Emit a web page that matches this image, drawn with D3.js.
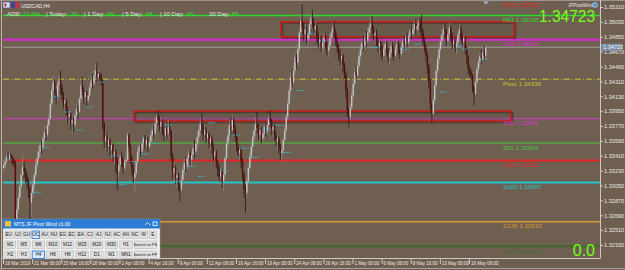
<!DOCTYPE html>
<html>
<head>
<meta charset="utf-8">
<script src="https://cdn.jsdelivr.net/npm/d3@7"></script>
<style>
  body { margin: 0; background: #6e5f50; overflow: hidden; }
  svg { display: block; font-family: "Liberation Sans", Arial, sans-serif; }
</style>
</head>
<body>
<svg width="625" height="270"></svg>
<script>
// USDCAD H4 candles (bar 0 = 18 Mar 2019 00:00)
var openFirst = 1.3326;
var closes = [
  1.3330,1.3334,1.3340,1.3337,1.3342,1.3339,1.3335,1.3332,1.3262,1.3276,
  1.3290,1.3304,1.3318,1.3328,1.3322,1.3316,1.3310,1.3300,1.3284,1.3296,
  1.3306,1.3318,1.3330,1.3338,1.3346,1.3354,1.3350,1.3362,1.3370,1.3366,
  1.3378,1.3386,1.3404,1.3420,1.3430,1.3418,1.3412,1.3426,1.3432,1.3424,
  1.3414,1.3404,1.3408,1.3396,1.3388,1.3392,1.3380,1.3384,1.3378,1.3390,
  1.3398,1.3394,1.3410,1.3426,1.3420,1.3412,1.3418,1.3408,1.3414,1.3424,
  1.3432,1.3428,1.3438,1.3444,1.3436,1.3440,1.3434,1.3432,1.3380,1.3358,
  1.3364,1.3352,1.3360,1.3348,1.3354,1.3342,1.3346,1.3336,1.3322,1.3330,
  1.3340,1.3334,1.3326,1.3334,1.3336,1.3366,1.3352,1.3338,1.3326,1.3314,
  1.3320,1.3334,1.3346,1.3352,1.3346,1.3356,1.3362,1.3354,1.3360,1.3352,
  1.3358,1.3366,1.3372,1.3368,1.3380,1.3388,1.3384,1.3376,1.3382,1.3372,
  1.3366,1.3374,1.3368,1.3376,1.3370,1.3340,1.3320,1.3326,1.3314,1.3318,
  1.3306,1.3300,1.3312,1.3324,1.3332,1.3328,1.3338,1.3344,1.3336,1.3342,
  1.3350,1.3346,1.3356,1.3364,1.3372,1.3380,1.3376,1.3366,1.3372,1.3362,
  1.3368,1.3356,1.3362,1.3352,1.3340,1.3346,1.3332,1.3324,1.3316,1.3322,
  1.3310,1.3318,1.3338,1.3356,1.3366,1.3378,1.3372,1.3384,1.3374,1.3364,
  1.3352,1.3344,1.3348,1.3334,1.3318,1.3300,1.3296,1.3310,1.3326,1.3340,
  1.3352,1.3364,1.3372,1.3380,1.3374,1.3366,1.3372,1.3362,1.3368,1.3376,
  1.3370,1.3378,1.3386,1.3382,1.3372,1.3376,1.3366,1.3358,1.3362,1.3350,
  1.3344,1.3348,1.3360,1.3372,1.3388,1.3404,1.3420,1.3436,1.3430,1.3444,
  1.3460,1.3454,1.3470,1.3490,1.3504,1.3496,1.3488,1.3494,1.3482,1.3488,
  1.3500,1.3508,1.3502,1.3494,1.3498,1.3486,1.3478,1.3482,1.3472,1.3478,
  1.3484,1.3476,1.3468,1.3474,1.3484,1.3490,1.3496,1.3490,1.3480,1.3472,
  1.3464,1.3458,1.3462,1.3450,1.3440,1.3420,1.3396,1.3388,1.3400,1.3414,
  1.3428,1.3442,1.3438,1.3450,1.3462,1.3470,1.3478,1.3474,1.3484,1.3480,
  1.3490,1.3496,1.3500,1.3494,1.3486,1.3490,1.3480,1.3472,1.3478,1.3468,
  1.3462,1.3470,1.3476,1.3468,1.3460,1.3466,1.3474,1.3468,1.3462,1.3470,
  1.3476,1.3470,1.3464,1.3472,1.3480,1.3476,1.3484,1.3478,1.3486,1.3492,
  1.3488,1.3494,1.3500,1.3494,1.3498,1.3502,1.3496,1.3490,1.3480,1.3472,
  1.3462,1.3448,1.3430,1.3404,1.3392,1.3408,1.3426,1.3444,1.3458,1.3470,
  1.3480,1.3488,1.3494,1.3490,1.3480,1.3488,1.3496,1.3486,1.3476,1.3480,
  1.3472,1.3478,1.3488,1.3494,1.3486,1.3478,1.3484,1.3470,1.3460,1.3446,
  1.3442,1.3438,1.3424,1.3416,1.3430,1.3446,1.3454,1.3462,1.3458,1.3466,1.3462,1.34723
];
var highs = [
  1.3336,1.3338,1.3344,1.3345,1.3346,1.3344,1.3341,1.3338,1.3335,1.3282,
  1.3296,1.3310,1.3326,1.3342,1.3334,1.3326,1.3320,1.3314,1.3304,1.3300,
  1.3312,1.3322,1.3336,1.3346,1.3352,1.3358,1.3360,1.3366,1.3376,1.3374,
  1.3384,1.3392,1.3410,1.3426,1.3438,1.3434,1.3422,1.3430,1.3438,1.3444,
  1.3428,1.3418,1.3414,1.3410,1.3400,1.3398,1.3394,1.3390,1.3388,1.3394,
  1.3404,1.3402,1.3414,1.3432,1.3436,1.3424,1.3422,1.3420,1.3418,1.3428,
  1.3438,1.3440,1.3446,1.3452,1.3454,1.3446,1.3442,1.3440,1.3434,1.3382,
  1.3370,1.3368,1.3366,1.3362,1.3358,1.3356,1.3352,1.3350,1.3340,1.3336,
  1.3344,1.3346,1.3338,1.3338,1.3344,1.3370,1.3368,1.3356,1.3342,1.3330,
  1.3326,1.3338,1.3350,1.3358,1.3356,1.3360,1.3366,1.3366,1.3364,1.3364,
  1.3362,1.3370,1.3378,1.3378,1.3386,1.3392,1.3396,1.3390,1.3388,1.3386,
  1.3378,1.3380,1.3378,1.3384,1.3382,1.3372,1.3344,1.3334,1.3330,1.3324,
  1.3320,1.3312,1.3318,1.3328,1.3338,1.3340,1.3342,1.3348,1.3348,1.3346,
  1.3356,1.3360,1.3362,1.3370,1.3378,1.3388,1.3392,1.3380,1.3378,1.3376,
  1.3372,1.3370,1.3366,1.3366,1.3356,1.3350,1.3348,1.3336,1.3330,1.3326,
  1.3324,1.3322,1.3342,1.3362,1.3372,1.3384,1.3388,1.3390,1.3388,1.3378,
  1.3368,1.3356,1.3352,1.3350,1.3338,1.3322,1.3306,1.3314,1.3330,1.3346,
  1.3358,1.3370,1.3378,1.3388,1.3394,1.3380,1.3376,1.3376,1.3372,1.3380,
  1.3382,1.3384,1.3390,1.3396,1.3386,1.3380,1.3380,1.3370,1.3366,1.3364,
  1.3356,1.3352,1.3364,1.3378,1.3392,1.3410,1.3426,1.3442,1.3446,1.3450,
  1.3466,1.3464,1.3476,1.3496,1.3512,1.3524,1.3502,1.3500,1.3498,1.3494,
  1.3504,1.3514,1.3518,1.3508,1.3504,1.3500,1.3490,1.3488,1.3486,1.3484,
  1.3490,1.3490,1.3480,1.3478,1.3488,1.3494,1.3502,1.3504,1.3494,1.3484,
  1.3476,1.3470,1.3466,1.3464,1.3454,1.3444,1.3424,1.3400,1.3404,1.3420,
  1.3434,1.3448,1.3450,1.3456,1.3468,1.3476,1.3484,1.3486,1.3490,1.3492,
  1.3496,1.3502,1.3508,1.3510,1.3498,1.3494,1.3494,1.3484,1.3482,1.3480,
  1.3474,1.3474,1.3480,1.3480,1.3472,1.3470,1.3478,1.3478,1.3474,1.3474,
  1.3482,1.3480,1.3476,1.3476,1.3484,1.3486,1.3488,1.3490,1.3490,1.3496,
  1.3498,1.3500,1.3504,1.3506,1.3504,1.3506,1.3508,1.3512,1.3494,1.3484,
  1.3476,1.3466,1.3452,1.3434,1.3408,1.3412,1.3432,1.3450,1.3464,1.3476,
  1.3486,1.3494,1.3500,1.3502,1.3494,1.3492,1.3502,1.3498,1.3490,1.3484,
  1.3484,1.3482,1.3492,1.3500,1.3498,1.3490,1.3488,1.3486,1.3474,1.3462,
  1.3450,1.3446,1.3440,1.3426,1.3434,1.3450,1.3458,1.3466,1.3470,1.3472,1.3474,1.3476
];
var lows = [
  1.3322,1.3326,1.3331,1.3333,1.3334,1.3333,1.3330,1.3327,1.3228,1.3250,
  1.3272,1.3286,1.3300,1.3316,1.3314,1.3308,1.3302,1.3290,1.3245,1.3268,
  1.3290,1.3300,1.3314,1.3326,1.3334,1.3340,1.3344,1.3348,1.3358,1.3360,
  1.3364,1.3372,1.3384,1.3400,1.3414,1.3412,1.3404,1.3408,1.3420,1.3416,
  1.3408,1.3398,1.3396,1.3390,1.3380,1.3380,1.3372,1.3368,1.3370,1.3374,
  1.3386,1.3386,1.3392,1.3406,1.3414,1.3404,1.3406,1.3400,1.3404,1.3410,
  1.3420,1.3422,1.3426,1.3434,1.3430,1.3432,1.3428,1.3426,1.3372,1.3350,
  1.3348,1.3346,1.3346,1.3340,1.3338,1.3334,1.3330,1.3320,1.3300,1.3314,
  1.3326,1.3328,1.3320,1.3322,1.3330,1.3334,1.3346,1.3332,1.3318,1.3308,
  1.3298,1.3316,1.3330,1.3340,1.3340,1.3342,1.3350,1.3348,1.3350,1.3346,
  1.3348,1.3352,1.3360,1.3362,1.3364,1.3374,1.3378,1.3370,1.3370,1.3366,
  1.3360,1.3362,1.3362,1.3364,1.3366,1.3334,1.3312,1.3310,1.3306,1.3302,
  1.3298,1.3286,1.3296,1.3306,1.3318,1.3322,1.3324,1.3330,1.3330,1.3328,
  1.3336,1.3338,1.3342,1.3350,1.3358,1.3366,1.3368,1.3360,1.3360,1.3356,
  1.3354,1.3350,1.3348,1.3344,1.3334,1.3332,1.3326,1.3316,1.3310,1.3306,
  1.3302,1.3298,1.3314,1.3336,1.3350,1.3360,1.3366,1.3370,1.3368,1.3358,
  1.3346,1.3340,1.3336,1.3326,1.3310,1.3290,1.3272,1.3290,1.3306,1.3322,
  1.3336,1.3346,1.3358,1.3366,1.3368,1.3360,1.3360,1.3356,1.3354,1.3362,
  1.3364,1.3366,1.3372,1.3376,1.3366,1.3364,1.3360,1.3352,1.3348,1.3344,
  1.3336,1.3334,1.3344,1.3356,1.3368,1.3384,1.3400,1.3416,1.3424,1.3428,
  1.3440,1.3446,1.3450,1.3466,1.3484,1.3488,1.3480,1.3482,1.3476,1.3474,
  1.3482,1.3494,1.3496,1.3488,1.3486,1.3478,1.3470,1.3470,1.3466,1.3464,
  1.3470,1.3470,1.3462,1.3460,1.3468,1.3476,1.3482,1.3484,1.3474,1.3466,
  1.3456,1.3450,1.3448,1.3442,1.3434,1.3410,1.3388,1.3376,1.3384,1.3396,
  1.3410,1.3424,1.3432,1.3436,1.3446,1.3456,1.3464,1.3468,1.3470,1.3472,
  1.3476,1.3484,1.3488,1.3488,1.3480,1.3478,1.3474,1.3466,1.3464,1.3460,
  1.3456,1.3456,1.3462,1.3462,1.3454,1.3452,1.3460,1.3460,1.3456,1.3458,
  1.3464,1.3464,1.3458,1.3458,1.3466,1.3470,1.3472,1.3472,1.3474,1.3480,
  1.3482,1.3484,1.3488,1.3488,1.3490,1.3492,1.3490,1.3484,1.3474,1.3466,
  1.3454,1.3440,1.3422,1.3396,1.3380,1.3390,1.3404,1.3424,1.3440,1.3452,
  1.3466,1.3474,1.3482,1.3484,1.3474,1.3474,1.3482,1.3480,1.3470,1.3468,
  1.3466,1.3464,1.3472,1.3482,1.3480,1.3472,1.3470,1.3464,1.3452,1.3440,
  1.3436,1.3432,1.3418,1.3402,1.3412,1.3426,1.3440,1.3448,1.3452,1.3454,1.3456,1.3458
];

// cyan marks drawn by the indicator: bar index and price
var markBars   = [1,21,27,35,42,50,57,66,74,80,88,95,102,111,118,127,134,141,149,158,164,171,179,187,193,202,209,217,254,274,283,300,311,315,328];
var markPrices = [1.3336,1.3296,1.3351,1.3413,1.3394,1.3372,1.3400,1.3430,1.3341,1.3306,1.3334,1.3343,1.3356,1.3378,1.3310,1.3328,1.3316,1.3381,1.3323,1.3366,1.3350,1.3339,1.3373,1.3378,1.3345,1.3420,1.3489,1.3480,1.3472,1.3470,1.3476,1.3418,1.3474,1.3470,1.3458];

// pivot levels
var levelNames  = ["R78", "R61", "R38", "Pivot", "S38", "S61", "S78", "S100", "S138", "S161"];
var levelValues = [1.35322, 1.35108, 1.34813, 1.34336, 1.33859, 1.33564, 1.33353, 1.33087, 1.32610, 1.32315];

// zones (red boxes): start bar, end bar, top, bottom
var zoneStart  = [191, 90];
var zoneEnd    = [351, 349];
var zoneTop    = [1.3503, 1.3395];
var zoneBottom = [1.3485, 1.3383];

var lastPrice = 1.34723;
var priceTicks = [1.35210,1.35030,1.34850,1.34670,1.34490,1.34310,1.34130,1.33950,1.33770,1.33590,1.33410,1.33230,1.33050,1.32870,1.32690,1.32510,1.32330];
var timeLabels = ["18 Mar 2019","21 Mar 08:00","25 Mar 16:00","28 Mar 00:00","2 Apr 08:00","4 Apr 16:00","9 Apr 00:00","12 Apr 08:00","16 Apr 16:00","19 Apr 00:00","24 Apr 08:00","26 Apr 16:00","1 May 00:00","6 May 08:00","8 May 16:00","13 May 00:00","16 May 08:00"];
var labelStep = 20;

var adrNames  = ["ADR:", "| Today:", "| 1 Day:", "| 5 Day:", "| 10 Day:", "20 Day:"];
var adrValues = ["27.6%", "10", "69", "68", "65", "65"];

var pairs = ["EU","UJ","GU","UC","AU","NU","EG","EC","EA","CJ","AJ","NJ","AC","AN","NC","W","E"];
var frames1 = ["M1","M5","M6","M10","M12","M15","M20","M30","H1","Switch to PS"];
var frames2 = ["H2","H3","H4","H6","H8","H12","D1","W1","MN1","Switch to PP"];

// styles
var levelStyle = {
  R78:   { c: "#e52222", w: 2 },
  R61:   { c: "#2ed82e", w: 1.5 },
  R38:   { c: "#e028d8", w: 2 },
  Pivot: { c: "#cdc634", w: 1, dash: "6,2,1,2" },
  S38:   { c: "#d33ad0", w: 1 },
  S61:   { c: "#44c83a", w: 1 },
  S78:   { c: "#e52222", w: 2 },
  S100:  { c: "#22c8cc", w: 2 },
  S138:  { c: "#d99a33", w: 1.5 },
  S161:  { c: "#3f6a2c", w: 2 }
};

var svg = d3.select("svg");
var plotL = 3, plotR = 600, plotT = 2, plotB = 258;

var x = d3.scaleLinear().domain([0, 410]).range([plotL, plotR]);
var y = d3.scaleLinear().domain([1.32330, 1.35210]).range([245, 7]);

svg.append("rect").attr("width", 625).attr("height", 270).attr("fill", "#6e5f50");

svg.append("clipPath").attr("id", "clip")
  .append("rect").attr("x", plotL).attr("y", plotT).attr("width", plotR - plotL).attr("height", plotB - plotT);

var plot = svg.append("g").attr("clip-path", "url(#clip)");

// level lines
var levels = levelNames.map(function(n, i) { return { name: n, v: levelValues[i] }; });
plot.selectAll("line.level").data(levels).enter().append("line")
  .attr("x1", plotL).attr("x2", plotR)
  .attr("y1", function(d) { return y(d.v); }).attr("y2", function(d) { return y(d.v); })
  .attr("stroke", function(d) { return levelStyle[d.name].c; })
  .attr("stroke-width", function(d) { return levelStyle[d.name].w; })
  .attr("stroke-dasharray", function(d) { return levelStyle[d.name].dash || null; });

// bid line
plot.append("line").attr("x1", plotL).attr("x2", plotR)
  .attr("y1", y(lastPrice)).attr("y2", y(lastPrice))
  .attr("stroke", "#a09a94").attr("stroke-width", 1);

// zones
var zones = zoneStart.map(function(s, i) { return { s: s, e: zoneEnd[i], t: zoneTop[i], b: zoneBottom[i] }; });
plot.selectAll("rect.zshadow").data(zones).enter().append("rect")
  .attr("x", function(d) { return x(d.s) + 1.5; }).attr("y", function(d) { return y(d.t) + 1.5; })
  .attr("width", function(d) { return x(d.e) - x(d.s); })
  .attr("height", function(d) { return y(d.b) - y(d.t); })
  .attr("fill", "none").attr("stroke", "rgba(40,30,20,0.45)").attr("stroke-width", 1.5);
plot.selectAll("rect.zone").data(zones).enter().append("rect")
  .attr("x", function(d) { return x(d.s); }).attr("y", function(d) { return y(d.t); })
  .attr("width", function(d) { return x(d.e) - x(d.s); })
  .attr("height", function(d) { return y(d.b) - y(d.t); })
  .attr("fill", "rgba(60,60,40,0.12)").attr("stroke", "#c81818").attr("stroke-width", 1.5);

// candles
var bars = closes.map(function(c, i) {
  return { i: i, o: i ? closes[i - 1] : openFirst, h: highs[i], l: lows[i], c: c };
});
plot.selectAll("line.wick").data(bars).enter().append("line")
  .attr("x1", function(d) { return x(d.i + 0.5); }).attr("x2", function(d) { return x(d.i + 0.5); })
  .attr("y1", function(d) { return y(d.h); }).attr("y2", function(d) { return y(d.l); })
  .attr("stroke", function(d) { return d.c >= d.o ? "#8c8884" : "#2a1a16"; }).attr("stroke-width", 0.8);
plot.selectAll("rect.body").data(bars).enter().append("rect")
  .attr("x", function(d) { return x(d.i + 0.5) - 0.7; })
  .attr("width", 1.4)
  .attr("y", function(d) { return y(Math.max(d.o, d.c)); })
  .attr("height", function(d) { return Math.max(0.7, Math.abs(y(d.o) - y(d.c))); })
  .attr("fill", function(d) { return d.c >= d.o ? "#c4c4c4" : "#560c0c"; });

// cyan marks
plot.selectAll("line.mark").data(markBars).enter().append("line")
  .attr("x1", function(d) { return x(d); }).attr("x2", function(d) { return x(d) + 7; })
  .attr("y1", function(d, i) { return y(markPrices[i]); }).attr("y2", function(d, i) { return y(markPrices[i]); })
  .attr("stroke", "#3cb6d2").attr("stroke-width", 1).attr("stroke-dasharray", "2,1");

// level labels (the top one is pushed down just enough to stay on screen)
plot.selectAll("text.level").data(levels).enter().append("text")
  .attr("x", 503).attr("y", function(d) { return Math.max(7, y(d.v) + 6.5); })
  .attr("fill", function(d) { return levelStyle[d.name].c; })
  .attr("font-size", 6.2)
  .text(function(d) { return d.name + " " + d.v.toFixed(5); });

// big numbers
svg.append("text").attr("x", 595).attr("y", 22).attr("text-anchor", "end")
  .attr("font-size", 17).attr("fill", "#7cfc1c")
  .attr("textLength", 56).attr("lengthAdjust", "spacingAndGlyphs")
  .text(lastPrice.toFixed(5));
svg.append("text").attr("x", 595).attr("y", 256).attr("text-anchor", "end")
  .attr("font-size", 16).attr("fill", "#7cfc1c").text("0.0");

// frame
svg.append("line").attr("x1", 1.5).attr("x2", 1.5).attr("y1", 0).attr("y2", 270).attr("stroke", "#bdb6ae").attr("stroke-width", 1);
svg.append("line").attr("x1", 0).attr("x2", 625).attr("y1", 0.5).attr("y2", 0.5).attr("stroke", "#9c948a").attr("stroke-width", 1);

// right axis
var yAxis = svg.append("g").attr("transform", "translate(" + plotR + ",0)")
  .call(d3.axisRight(y).tickValues(priceTicks).tickSize(3).tickPadding(1).tickFormat(d3.format(".5f")));
yAxis.select(".domain").attr("d", "M0.5," + 0 + "V" + plotB).attr("stroke", "#cfc9c2");
yAxis.selectAll(".tick line").attr("stroke", "#cfc9c2");
yAxis.selectAll(".tick text").attr("fill", "#ece8e4").attr("font-size", 5.6).attr("font-family", "Liberation Sans, Arial, sans-serif");

// price box
svg.append("rect").attr("x", 601).attr("y", y(lastPrice) - 3.5).attr("width", 21).attr("height", 7).attr("fill", "#7d8fa8");
svg.append("text").attr("x", 603).attr("y", y(lastPrice) + 2).attr("font-size", 5.6).attr("fill", "#f2f4f8").text(lastPrice.toFixed(5));

// bottom axis
var labelIdx = timeLabels.map(function(t, i) { return i * labelStep; });
var xAxis = svg.append("g").attr("transform", "translate(0," + plotB + ")")
  .call(d3.axisBottom(x).tickValues(labelIdx).tickSize(4).tickPadding(1)
    .tickFormat(function(d, i) { return timeLabels[i]; }));
xAxis.select(".domain").attr("d", "M" + 1.5 + ",0.5H" + (plotR + 0.5)).attr("stroke", "#cfc9c2");
xAxis.selectAll(".tick line").attr("stroke", "#cfc9c2").attr("y2", 6);
xAxis.selectAll(".tick text").attr("fill", "#ece8e4").attr("font-size", 4.5)
  .attr("text-anchor", "start").attr("x", 1.5).attr("y", 4)
  .attr("font-family", "Liberation Sans, Arial, sans-serif");
svg.append("line").attr("x1", 0).attr("x2", 625).attr("y1", 268.5).attr("y2", 268.5).attr("stroke", "#a8a29a");

// top-left header
svg.append("rect").attr("x", 3).attr("y", 2).attr("width", 7).attr("height", 6).attr("fill", "#d9dce8").attr("stroke", "#3a4f9a").attr("stroke-width", 0.6);
svg.append("rect").attr("x", 4.5).attr("y", 3.5).attr("width", 2).attr("height", 3).attr("fill", "#c8283a");
svg.append("rect").attr("x", 11.5).attr("y", 2).attr("width", 7).attr("height", 6).attr("fill", "#2b4aa8");
svg.append("rect").attr("x", 15).attr("y", 2).attr("width", 3.5).attr("height", 6).attr("fill", "#d8303a");
svg.append("text").attr("x", 21).attr("y", 7.5).attr("font-size", 5).attr("fill", "#f2f2f2").text("USDCAD,H4");

var adrX = [7, 46, 84, 122, 160, 209];
var adrVX = [23, 71, 107, 146, 187, 232];
var hdr = svg.append("g").attr("font-size", 6);
hdr.selectAll("text.n").data(adrNames).enter().append("text")
  .attr("x", function(d, i) { return adrX[i]; }).attr("y", 16.2).attr("fill", "#e4e4e4").text(function(d) { return d; });
hdr.selectAll("text.v").data(adrValues).enter().append("text")
  .attr("x", function(d, i) { return adrVX[i]; }).attr("y", 16.2).attr("fill", "#35e035").text(function(d) { return d; });

// top-right
svg.append("text").attr("x", 568).attr("y", 7).attr("font-size", 4.6).attr("fill", "#e8e8e8").text("JFPivotWind");
svg.append("circle").attr("cx", 595).attr("cy", 5).attr("r", 2.5).attr("fill", "#4a9ad8").attr("stroke", "#e8e8e8").attr("stroke-width", 0.5);
svg.append("path").attr("d", "M483,1.5L489,1.5L486,4.5Z").attr("fill", "#9ab8e0");

// control panel
var panel = svg.append("g").attr("transform", "translate(3,219)").attr("font-size", 4.8);
panel.append("rect").attr("width", 157).attr("height", 40).attr("fill", "#f0f0f0").attr("stroke", "#9aa6b4").attr("stroke-width", 0.5);
panel.append("rect").attr("width", 157).attr("height", 9.5).attr("fill", "#2d7dd2");
panel.append("rect").attr("x", 2).attr("y", 2).attr("width", 6).attr("height", 5.5).attr("fill", "#e8c040");
panel.append("text").attr("x", 11).attr("y", 7).attr("fill", "#ffffff").attr("font-size", 5).text("MTS JF Pivot Wind v1.00");
panel.append("path").attr("d", "M142,6L144.5,3.5L147,6").attr("fill", "none").attr("stroke", "#ffffff").attr("stroke-width", 0.8);
panel.append("rect").attr("x", 150).attr("y", 3).attr("width", 4).attr("height", 3.5).attr("fill", "none").attr("stroke", "#ffffff").attr("stroke-width", 0.8);

function buttons(list, yy, xs, ws, selected) {
  var b = panel.append("g").selectAll("g").data(list).enter().append("g")
    .attr("transform", function(d, i) { return "translate(" + xs(i) + "," + yy + ")"; });
  b.append("rect").attr("width", function(d, i) { return ws(i); }).attr("height", 7.5)
    .attr("fill", function(d) { return d === selected ? "#d8e9f8" : "#e1e1e1"; })
    .attr("stroke", function(d) { return d === selected ? "#2a7ad4" : "#adadad"; })
    .attr("stroke-width", function(d) { return d === selected ? 0.9 : 0.5; });
  b.append("text").attr("x", function(d, i) { return ws(i) / 2; }).attr("y", 5.4)
    .attr("text-anchor", "middle").attr("fill", "#111")
    .attr("font-size", function(d) { return d.length > 4 ? 4.2 : 4.6; })
    .text(function(d) { return d; });
}
buttons(pairs, 12, function(i) { return 2 + i * 9; }, function() { return 7.4; }, "UC");
var fx = function(i) { return i === 0 ? 2 : i * 14.6; };
var fw = function(i) { return i === 0 ? 10.5 : (i === 9 ? 22 : 12.4); };
buttons(frames1, 22, fx, fw, null);
buttons(frames2, 32, fx, fw, "H4");
</script>
</body>
</html>
